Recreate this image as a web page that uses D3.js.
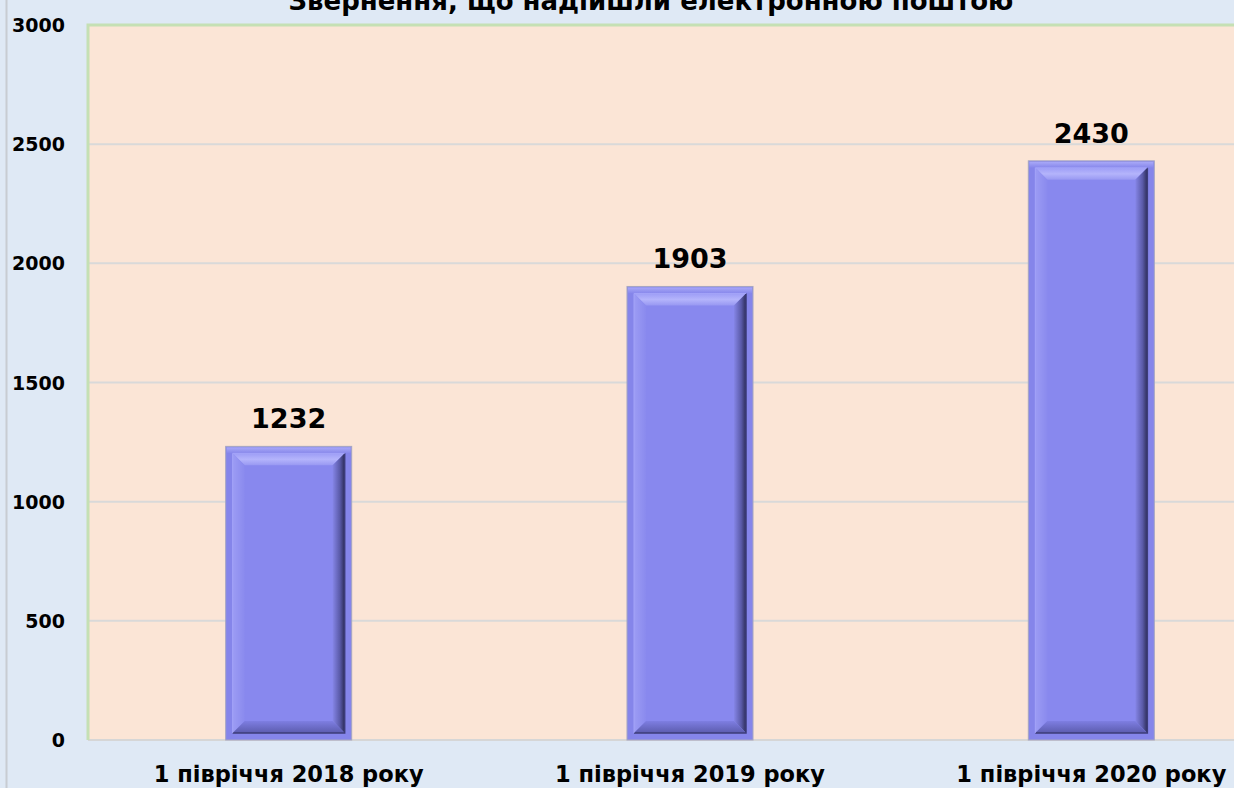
<!DOCTYPE html>
<head>
  <meta charset="utf-8">
  <style>
    body { margin: 0; background: #dfe9f5; }
    svg { display: block; font-family: "DejaVu Sans", sans-serif; }
  </style>
  <script src="https://cdn.jsdelivr.net/npm/d3@7"></script>
</head>
<body>
  <svg width="1234" height="788"></svg>
  <script>

  var categories = ["1 півріччя 2018 року", "1 півріччя 2019 року", "1 півріччя 2020 року"];
  var values = [1232, 1903, 2430];
  var yTicks = [0, 500, 1000, 1500, 2000, 2500, 3000];
  var title = "Звернення, що надійшли електронною поштою";

  var svg = d3.select("svg"),
      width = +svg.attr("width"),
      height = +svg.attr("height");

  var plot = {left: 88, top: 25, right: 1292, bottom: 740};

  var x = d3.scaleBand()
      .domain(categories)
      .range([plot.left, plot.right])
      .paddingInner(0.686)
      .paddingOuter(0.343);

  var y = d3.scaleLinear()
      .domain([0, 3000])
      .range([plot.bottom, plot.top]);

  var defs = svg.append("defs");

  function grad(id, x2, y2, stops) {
    var g = defs.append("linearGradient").attr("id", id)
        .attr("x1", 0).attr("y1", 0).attr("x2", x2).attr("y2", y2);
    stops.forEach(function(s) {
      g.append("stop").attr("offset", s[0]).attr("stop-color", s[1]);
    });
  }
  grad("gTop", 0, 1, [[0, "#9d9df6"], [0.5, "#b4b4fb"], [1, "#9898f2"]]);
  grad("gRight", 1, 0, [[0, "#8585e6"], [0.6, "#5a5aa8"], [1, "#2e2e5a"]]);
  grad("gBottom", 0, 1, [[0, "#7e7ee2"], [1, "#5c5cae"]]);
  grad("gLeft", 1, 0, [[0, "#9c9cf4"], [1, "#8a8aee"]]);
  grad("gRim", 0, 1, [[0, "#a8a8f8"], [1, "#8686ea"]]);

  // outer frame line
  svg.append("line")
      .attr("x1", 6.5).attr("x2", 6.5)
      .attr("y1", 0).attr("y2", height)
      .attr("stroke", "#c8ccd2")
      .attr("stroke-width", 2);

  // plot area
  svg.append("rect")
      .attr("x", plot.left)
      .attr("y", plot.top)
      .attr("width", plot.right - plot.left)
      .attr("height", plot.bottom - plot.top)
      .attr("fill", "#fbe5d6");

  svg.append("g")
      .selectAll("line")
      .data(yTicks.slice(1, -1))
      .enter().append("line")
      .attr("x1", plot.left).attr("x2", plot.right)
      .attr("y1", function(d) { return y(d); })
      .attr("y2", function(d) { return y(d); })
      .attr("stroke", "#d9d9d9")
      .attr("stroke-width", 2);

  svg.append("line")
      .attr("x1", plot.left).attr("x2", plot.right)
      .attr("y1", y(0)).attr("y2", y(0))
      .attr("stroke", "#d6d6d6")
      .attr("stroke-width", 2);

  svg.append("path")
      .attr("d", "M" + plot.left + "," + plot.bottom + "V" + plot.top + "H" + plot.right)
      .attr("fill", "none")
      .attr("stroke", "#c5e0b4")
      .attr("stroke-width", 3);

  // bars with a bevelled frame
  var bars = svg.append("g").selectAll("g")
      .data(values)
      .enter().append("g")
      .attr("transform", function(d, i) { return "translate(" + x(categories[i]) + "," + y(d) + ")"; });

  var bw = x.bandwidth();

  bars.each(function(d) {
    var g = d3.select(this),
        h = y(0) - y(d),
        o = 7, b = 12;
    g.append("rect").attr("width", bw).attr("height", h)
        .attr("fill", "#8585ea").attr("stroke", "#a6a6c2").attr("stroke-width", 1);
    g.append("rect").attr("x", 1).attr("y", 1).attr("width", bw - 2).attr("height", o - 1)
        .attr("fill", "url(#gRim)");
    // inner panel
    var ix = o, iy = o, iw = bw - 2 * o, ih = h - 2 * o;
    g.append("rect").attr("x", ix).attr("y", iy).attr("width", iw).attr("height", ih)
        .attr("fill", "#8888ee");
    g.append("path").attr("fill", "url(#gTop)")
        .attr("d", "M" + ix + "," + iy + "h" + iw + "l" + (-b) + "," + b + "h" + (-(iw - 2 * b)) + "Z");
    g.append("path").attr("fill", "url(#gLeft)")
        .attr("d", "M" + ix + "," + iy + "l" + b + "," + b + "v" + (ih - 2 * b) + "l" + (-b) + "," + b + "Z");
    g.append("path").attr("fill", "url(#gRight)")
        .attr("d", "M" + (ix + iw) + "," + iy + "v" + ih + "l" + (-b) + "," + (-b) + "v" + (-(ih - 2 * b)) + "Z");
    g.append("path").attr("fill", "url(#gBottom)")
        .attr("d", "M" + ix + "," + (iy + ih) + "h" + iw + "l" + (-b) + "," + (-b) + "h" + (-(iw - 2 * b)) + "Z");
    g.append("path").attr("fill", "none").attr("stroke", "#3c3c78").attr("stroke-width", 1.5)
        .attr("d", "M" + ix + "," + (iy + ih) + "H" + (ix + iw) + "V" + iy);
    g.append("path").attr("fill", "none").attr("stroke", "#a4a4f8").attr("stroke-width", 1)
        .attr("d", "M" + ix + "," + (iy + ih) + "V" + iy + "H" + (ix + iw));
  });

  // value labels
  svg.append("g").selectAll("text")
      .data(values)
      .enter().append("text")
      .attr("x", function(d, i) { return x(categories[i]) + bw / 2; })
      .attr("y", function(d) { return y(d) - 18; })
      .attr("text-anchor", "middle")
      .attr("font-size", 27)
      .attr("font-weight", "bold")
      .attr("fill", "#000")
      .text(function(d) { return d; });

  // y axis labels
  svg.append("g").selectAll("text")
      .data(yTicks)
      .enter().append("text")
      .attr("x", 65)
      .attr("y", function(d) { return y(d) + 7; })
      .attr("text-anchor", "end")
      .attr("font-size", 19)
      .attr("font-weight", "bold")
      .attr("fill", "#000")
      .text(function(d) { return d; });

  // category labels
  svg.append("g").selectAll("text")
      .data(categories)
      .enter().append("text")
      .attr("x", function(d) { return x(d) + bw / 2; })
      .attr("y", 782)
      .attr("text-anchor", "middle")
      .attr("font-size", 22.5)
      .attr("font-weight", "bold")
      .attr("fill", "#000")
      .text(function(d) { return d; });

  svg.append("text")
      .attr("x", 651)
      .attr("y", 10)
      .attr("text-anchor", "middle")
      .attr("font-size", 26)
      .attr("font-weight", "bold")
      .attr("fill", "#000")
      .text(title);

  </script>
</body>
